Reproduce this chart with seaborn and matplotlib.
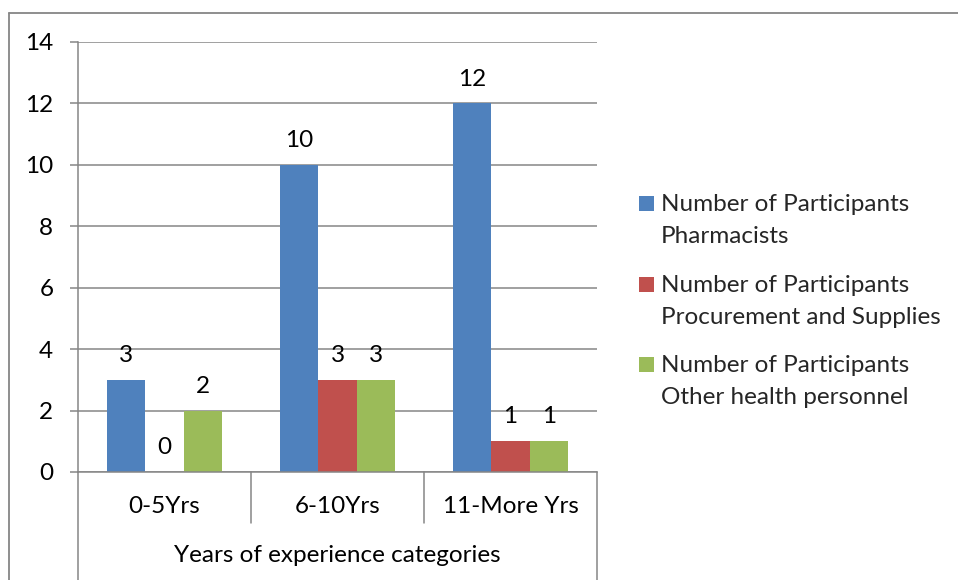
import matplotlib
matplotlib.use("Agg")
import matplotlib.pyplot as plt
from matplotlib.lines import Line2D
from matplotlib.patches import Rectangle
import seaborn as sns
import pandas as pd

# Chart data
categories = ["0-5Yrs", "6-10Yrs", "11-More Yrs"]
pharmacists = [3, 10, 12]
procurement = [0, 3, 1]
other_staff = [2, 3, 1]
series_names = [
    "Number of Participants\nPharmacists",
    "Number of Participants\nProcurement and Supplies",
    "Number of Participants\nOther health personnel",
]
colors = ["#4F81BD", "#C0504D", "#9BBB59"]
y_ticks = [0, 2, 4, 6, 8, 10, 12, 14]
axis_title = "Years of experience categories"

rows = []
for name, vals in zip(series_names, [pharmacists, procurement, other_staff]):
    for cat, v in zip(categories, vals):
        rows.append({"category": cat, "count": v, "series": name})
df = pd.DataFrame(rows)

sns.set_style("white")
plt.rcParams["font.family"] = ["Lato", "DejaVu Sans"]
FS = 17.5
GRID = "#868686"

W, H = 958, 580
fig = plt.figure(figsize=(W / 100, H / 100), dpi=100)
ax = fig.add_axes([78 / W, 1 - 472 / H, 519 / W, 430 / H])

sns.barplot(data=df, x="category", y="count", hue="series", order=categories,
            hue_order=series_names, palette=colors, width=0.667, gap=0,
            saturation=1, linewidth=0, legend=False, ax=ax)

ax.set_xlim(-0.5, 2.5)
ax.set_ylim(0, 14)
ax.set_yticks(y_ticks)
ax.yaxis.grid(True, color=GRID, lw=1.1)
ax.set_axisbelow(True)
for side in ["top", "right"]:
    ax.spines[side].set_visible(False)
for side in ["left", "bottom"]:
    ax.spines[side].set_color(GRID)
    ax.spines[side].set_linewidth(1.1)

ax.tick_params(axis="y", length=5.8, width=1.1, color=GRID, pad=12,
               labelsize=FS, labelcolor="black", left=True)
ax.tick_params(axis="x", length=0, pad=17.5, labelsize=FS, labelcolor="black")
ax.set_xlabel("")
ax.set_ylabel("")

# value labels above each bar
for cont, vals in zip(ax.containers, [pharmacists, procurement, other_staff]):
    ax.bar_label(cont, labels=[str(v) for v in vals], padding=10,
                 fontsize=FS, color="black")

# multi-level category axis: separators and group title
trans = ax.get_xaxis_transform()
for x in [0.5, 1.5]:
    ax.plot([x, x], [0, -51 / 430], transform=trans, color=GRID, lw=1.1,
            clip_on=False)
for x in [-0.5, 2.5]:
    ax.plot([x, x], [0, -0.3], transform=trans, color=GRID, lw=1.1,
            clip_on=False)
ax.text(1.0, -(556 - 472) / 430, axis_title, transform=trans, ha="center",
        va="center", fontsize=FS, color="black")

# legend
entry_tops = [196, 277, 357]
for name, col, top in zip(series_names, colors, entry_tops):
    fig.add_artist(Rectangle((639 / W, 1 - (top + 15) / H), 15 / W, 15 / H,
                             transform=fig.transFigure, color=col, lw=0))
    first, second = name.split("\n")
    fig.text(661 / W, 1 - (top + 15) / H, first, fontsize=FS, va="baseline")
    fig.text(661 / W, 1 - (top + 47) / H, second, fontsize=FS, va="baseline")

# chart frame
fig.add_artist(Line2D([9 / W, 1.0], [1 - 12.5 / H] * 2, color=GRID, lw=1.3))
fig.add_artist(Line2D([9 / W] * 2, [0, 1 - 12.5 / H], color=GRID, lw=1.3))

fig.savefig("out.png", dpi=100)
